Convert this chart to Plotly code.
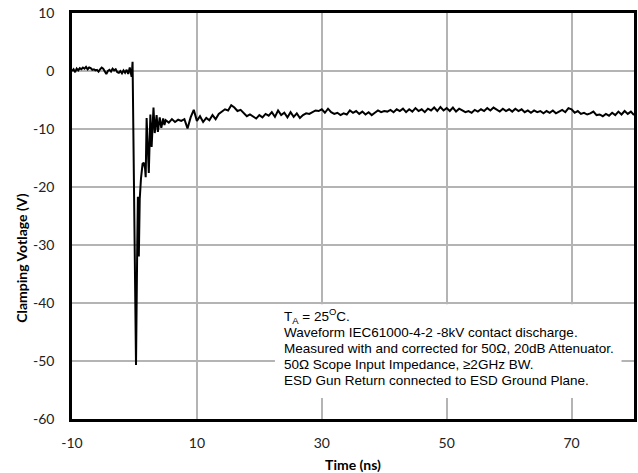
import plotly.graph_objects as go

# ---- data ----
# pre-pulse samples, 0.25 ns apart starting at -10 ns
pre_start = -10.0
pre_step = 0.25
pre_v = [0.0, 0.3, -0.2, 0.4, 0.1, 0.5, 0.3, 0.6, 0.4, 0.7, 0.3, 0.6, 0.5, 0.2, 0.3, 0.1,
         0.2, -0.1, 0.3, 0.6, 0.4, -0.2, -0.5, 0.0, 0.2, -0.1, 0.4, 0.1, 0.3, -0.2, -0.3,
         0.0, -0.4, 0.1, -0.3, 0.2, -0.5, 0.6, -0.6]

# discharge event (irregular sample times)
spike_t = [-0.45, -0.3, -0.1, 0.25, 0.45, 0.55, 0.7, 0.85, 1.05, 1.3, 1.5, 1.7, 1.8, 1.95,
           2.3, 2.55, 2.75, 3.05, 3.25, 3.55, 3.75, 4.05, 4.3, 4.6, 4.8]
spike_v = [-1.0, 1.6, -20.0, -50.7, -30.0, -21.7, -32.0, -22.0, -18.5, -16.0, -15.8, -16.8,
           -18.3, -8.1, -17.6, -7.5, -13.1, -6.3, -10.7, -7.6, -10.5, -8.0, -9.8, -8.2, -9.3]

# settled tail, 0.5 ns apart starting at 5 ns
tail_start = 5.0
tail_step = 0.5
tail_v = [-8.5, -8.9, -8.3, -8.8, -8.4, -8.6, -8.3, -9.9, -8.0, -6.7,
          -8.6, -7.8, -8.8, -8.1, -8.5, -7.6, -8.3, -7.4, -7.0, -6.6,
          -6.8, -5.9, -6.3, -6.9, -6.7, -7.3, -7.8, -7.5, -7.9, -8.2,
          -7.6, -8.0, -7.4, -7.7, -7.1, -7.9, -6.8, -7.6, -7.2, -8.0,
          -7.1, -7.9, -7.3, -8.1, -7.6, -7.3, -7.4, -7.1, -6.8, -6.9,
          -6.6, -7.2, -6.5, -7.1, -7.4, -7.2, -7.6, -7.3, -7.5, -6.8,
          -7.2, -6.9, -7.4, -7.0, -7.5, -7.1, -7.6, -7.2, -6.8, -7.1,
          -6.9, -7.0, -6.7, -7.1, -6.6, -6.9, -6.5, -7.1, -6.6, -7.0,
          -6.4, -6.9, -6.6, -7.1, -6.5, -6.8, -6.3, -6.9, -6.2, -6.8,
          -6.4, -6.9, -6.3, -7.0, -6.5, -6.8, -7.1, -6.9, -7.2, -6.7,
          -7.0, -6.6, -6.9, -6.4, -6.8, -6.3, -6.7, -7.0, -6.5, -6.9,
          -6.6, -7.0, -6.5, -6.9, -6.6, -7.1, -6.8, -7.2, -6.8, -7.1,
          -6.9, -7.3, -6.9, -7.2, -6.8, -7.3, -7.0, -6.7, -7.1, -6.4,
          -6.6, -7.2, -6.9, -7.4, -7.2, -7.5, -7.3, -7.0, -7.6, -7.5,
          -7.8, -7.4, -7.7, -7.2, -7.6, -7.0, -7.5, -6.9, -7.4, -7.0,
          -7.6]

x_ticks = [-10, 10, 30, 50, 70]
y_ticks = [-60, -50, -40, -30, -20, -10, 0, 10]

x_title = "Time (ns)"
y_title = "Clamping Votlage (V)"

note_lines = [
    "T<sub>A</sub> = 25<sup>O</sup>C.",
    "Waveform IEC61000-4-2 -8kV contact discharge.",
    "Measured with and corrected for 50Ω, 20dB Attenuator.",
    "50Ω Scope Input Impedance, ≥2GHz BW.",
    "ESD Gun Return connected to ESD Ground Plane.",
]
note_y = [-42.2, -45.1, -47.9, -50.6, -53.3]   # line centres, in volts

# ---- assemble series ----
t = [pre_start + i * pre_step for i in range(len(pre_v))] + spike_t + \
    [tail_start + i * tail_step for i in range(len(tail_v))]
v = pre_v + spike_v + tail_v

fig = go.Figure()
fig.add_trace(go.Scatter(x=t, y=v, mode="lines",
                         line=dict(color="black", width=2), showlegend=False))

tick_font = dict(family="Lato, Open Sans, sans-serif", size=14, color="#222")
title_font = dict(family="Lato, Open Sans, sans-serif", size=14, color="black")

fig.update_xaxes(range=[-10, 80], tickvals=x_ticks, ticktext=[str(k) for k in x_ticks],
                 showgrid=True, gridcolor="#b4b4b4", gridwidth=1.5,
                 showline=True, linecolor="black", linewidth=2.5, mirror=True,
                 zeroline=False, ticks="outside", ticklen=9, tickcolor="rgba(0,0,0,0)",
                 tickfont=tick_font, automargin=False, ticklabeloverflow="allow",
                 title=dict(text="<b>" + x_title + "</b>", font=title_font))
fig.update_yaxes(range=[-60, 10], tickvals=y_ticks, ticktext=[str(k) for k in y_ticks],
                 showgrid=True, gridcolor="#b4b4b4", gridwidth=1.5,
                 showline=True, linecolor="black", linewidth=2.5, mirror=True,
                 zeroline=False, ticks="outside", ticklen=12, tickcolor="rgba(0,0,0,0)",
                 tickfont=tick_font, automargin=False, ticklabeloverflow="allow")

# y-axis title placed as rotated text, where the reference has it
fig.add_annotation(x=-0.089, y=0.397, xref="paper", yref="paper", xanchor="center",
                   yanchor="middle", textangle=-90, showarrow=False,
                   text="<b>" + y_title + "</b>", font=title_font)

# white box behind the note (hides the gridlines there)
fig.add_shape(type="rect", xref="x", yref="y", x0=22.5, x1=78.0, y0=-56.4, y1=-40.2,
              fillcolor="white", line=dict(width=0), layer="above")

for line, yy in zip(note_lines, note_y):
    fig.add_annotation(x=23.6, y=yy, xref="x", yref="y", xanchor="left", yanchor="middle",
                       text=line, showarrow=False, align="left",
                       font=dict(family="Liberation Sans, Arial, sans-serif", size=13.5,
                                 color="black"))

fig.update_layout(width=638, height=473, plot_bgcolor="white", paper_bgcolor="white",
                  margin=dict(l=72, r=4, t=13, b=54))

# remove the browser's default 8px body margin so the figure sits at the page origin
fig.write_html("out.html", config={"displayModeBar": False},
               post_script="document.body.style.margin='0';")
